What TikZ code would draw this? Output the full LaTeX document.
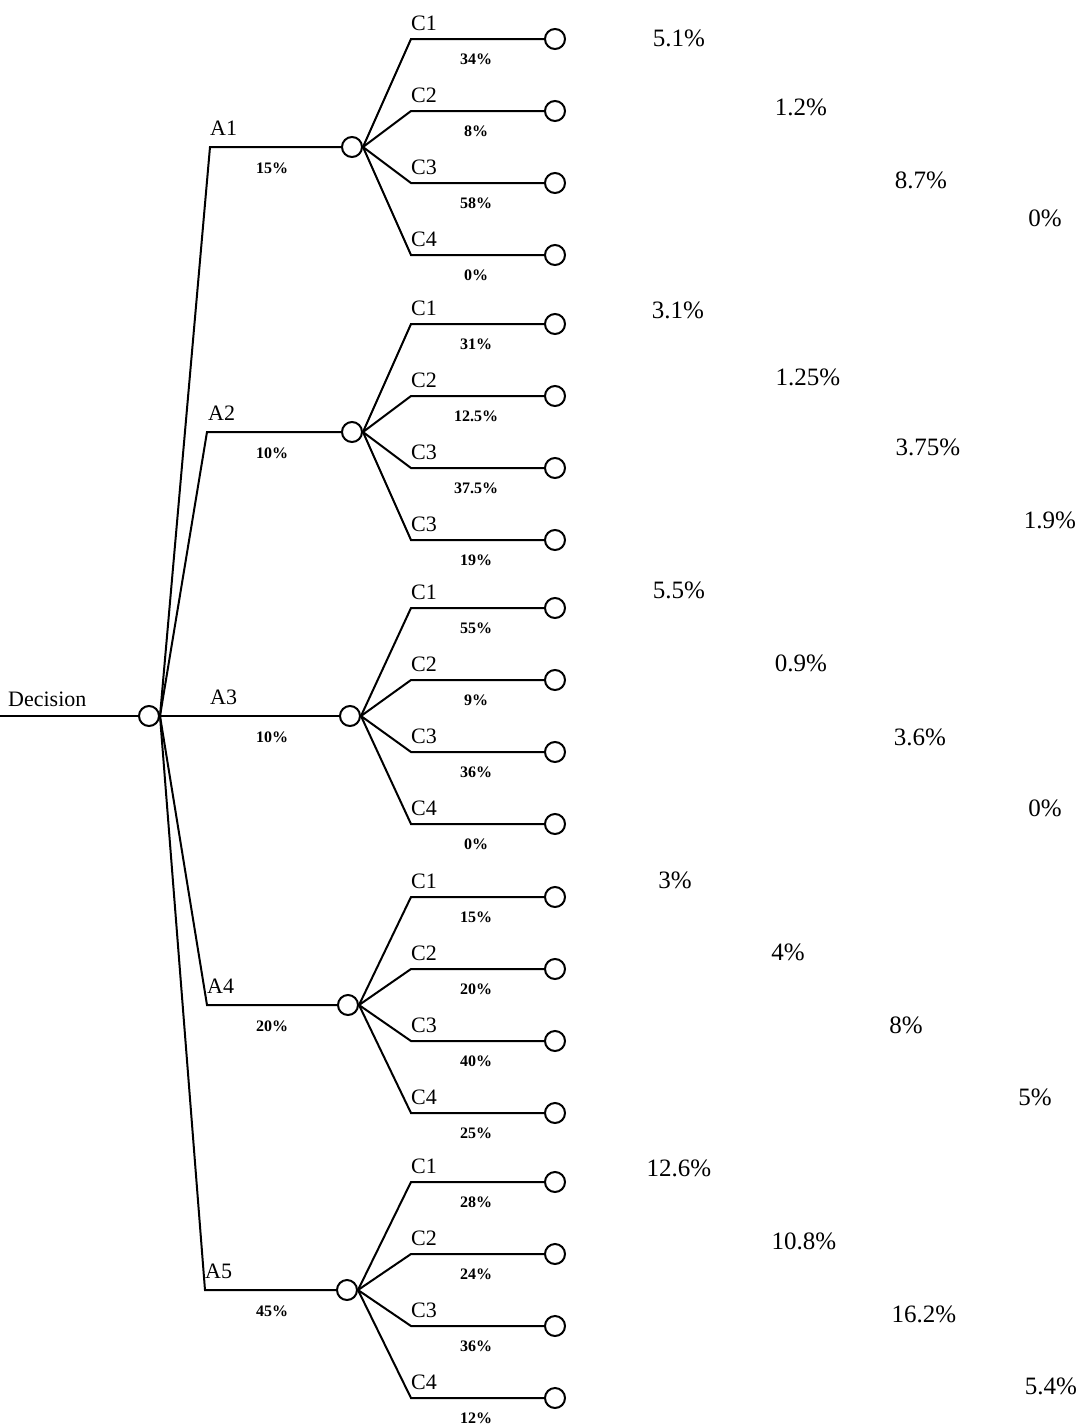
\documentclass[tikz,border=0pt]{standalone}
\usepackage{fontspec}
\setmainfont{Liberation Serif}
\usetikzlibrary{positioning,calc}

\begin{document}
\begin{tikzpicture}[x=1pt,y=-1pt,
    chance/.style={circle,draw,line width=2pt,minimum size=20pt,inner sep=0pt},
    branch/.style={line width=2pt},
    lbl/.style={font=\fontsize{22}{22}\selectfont,inner sep=0pt},
    prob/.style={font=\fontsize{16}{16}\selectfont\bfseries,inner sep=0pt},
    res/.style={font=\fontsize{25}{25}\selectfont,inner sep=0pt}]
        \useasboundingbox (0,0) rectangle (1081,1428);
        % decisao
        \coordinate (start) at (0,716);
        \node[chance] (root) at (149,716) {};
        \node[lbl, anchor=base west] (dec) at (8,706) {Decision};
        \draw[branch] (start) -- (root);
        % alternativas e ramos
        \foreach \i/\y/\kx/\lx/\ax/\p/\cs in {
            1/147/210/210/352/15/{C1/34,C2/8,C3/58,C4/0},
            2/432/207/208/352/10/{C1/31,C2/12.5,C3/37.5,C3/19},
            3/716/163/210/350/10/{C1/55,C2/9,C3/36,C4/0},
            4/1005/207/207/348/20/{C1/15,C2/20,C3/40,C4/25},
            5/1290/205/205/347/45/{C1/28,C2/24,C3/36,C4/12}} {
          \coordinate (k\i) at (\kx,\y);
          \node[chance] (alt\i) at (\ax,\y) {};
          \draw[branch] (root.east) -- (k\i) -- (alt\i);
          \node[lbl, anchor=base west] (al\i) at (\lx,\y-12) {A\i};
          \node[prob] (ap\i) at (272,\y+21) {\p\%};
          \foreach \c/\q [count=\j] in \cs {
            \coordinate (b\i\j) at (411,\y-180+\j*72);
            \node[chance] (e\i\j) at (555,\y-180+\j*72) {};
            \draw[branch] (alt\i.east) -- (b\i\j) -- (e\i\j);
            \node[lbl, anchor=base west] (cl\i\j) at (411,\y-189+\j*72) {\c};
            \node[prob] (cp\i\j) at (476,\y-160+\j*72) {\q\%};
          }
        }
        % resultados
        \foreach \x/\y/\v in {679/38/5.1, 801/107/1.2, 921/180/8.7, 1045/218/0,
            678/310/3.1, 808/377/1.25, 928/447/3.75, 1050/520/1.9,
            679/590/5.5, 801/663/0.9, 920/737/3.6, 1045/808/0,
            675/880/3, 788/952/4, 906/1025/8, 1035/1097/5,
            679/1168/12.6, 804/1241/10.8, 924/1314/16.2, 1051/1386/5.4} {
          \node[res] at (\x,\y) {\v\%};
        }
      \end{tikzpicture}
\end{document}
